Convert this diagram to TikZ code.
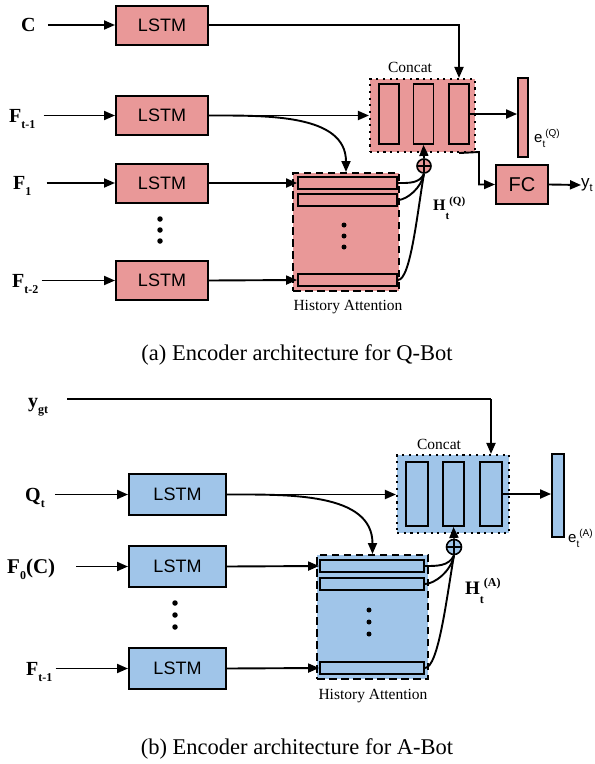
\documentclass[tikz,border=0pt]{standalone}
\usepackage{fontspec}
\setmainfont{Liberation Serif}
\setsansfont{Liberation Sans}
\usetikzlibrary{arrows.meta}
\definecolor{qred}{RGB}{233,152,152}
\definecolor{ablue}{RGB}{160,197,233}
% lowered and raised indices
\newcommand\lowidx[1]{\raisebox{-6pt}{\fontsize{12}{12}\selectfont #1}}
\newcommand\highidx[1]{\raisebox{7pt}{\fontsize{12}{12}\selectfont #1}}

\begin{document}
\begin{tikzpicture}
    [x=1pt, y=-1pt,
    % LSTM encoders
    lstm/.style={rectangle, draw=black, fill=#1, line width=2pt, minimum height=39pt, inner sep=0pt, font=\sffamily\fontsize{18}{18}\selectfont},
    % Concat block
    concat/.style={rectangle, draw=black, fill=#1, line width=2.1pt, dash pattern=on 2.1pt off 4.6pt, inner sep=0pt},
    % History attention block
    history/.style={rectangle, draw=black, fill=#1, line width=2pt, dash pattern=on 7.5pt off 4.5pt, inner sep=0pt},
    % Slots inside the blocks
    slot/.style={rectangle, draw=black, fill=#1, line width=1.8pt, inner sep=0pt},
    % Summation
    adder/.style={circle, draw=black, fill=#1, line width=1.6pt, minimum size=14pt, inner sep=0pt,
        path picture={\draw[line width=1.3pt] (path picture bounding box.north) -- (path picture bounding box.south)
        (path picture bounding box.west) -- (path picture bounding box.east);}},
    % Inputs and labels
    inp/.style={anchor=base west, inner sep=0pt, font=\bfseries\fontsize{20}{20}\selectfont},
    tag/.style={anchor=base, inner sep=0pt, font=\fontsize{15.5}{16}\selectfont},
    outp/.style={anchor=base west, inner sep=0pt, font=\sffamily\fontsize{15}{15}\selectfont},
    caption/.style={anchor=base, inner sep=0pt, font=\fontsize{22.5}{23}\selectfont},
    dot/.style={circle, fill=black, inner sep=0pt, minimum size=5.5pt},
    line/.style={draw, line width=1.9pt, -{Triangle[length=11pt,width=9pt]}},
    plain/.style={draw, line width=1.9pt}]
    \useasboundingbox (0,0) rectangle (595,764);

    % (a) Q-Bot encoder
    \node [inp] (inQa) at (21,31)  {C};
    \node [inp] (inQb) at (9,122)  {F\lowidx{t-1}};
    \node [inp] (inQc) at (13,189) {F\lowidx{1}};
    \node [inp] (inQd) at (12,287) {F\lowidx{t-2}};

    \node [lstm=qred, minimum width=92pt] (lstmQa) at (162,25)    {LSTM};
    \node [lstm=qred, minimum width=92pt] (lstmQb) at (162,115.5) {LSTM};
    \node [lstm=qred, minimum width=92pt] (lstmQc) at (162,183)   {LSTM};
    \node [lstm=qred, minimum width=92pt] (lstmQd) at (162,280.5) {LSTM};
    \node [dot] (dQa) at (160,219) {};
    \node [dot] (dQb) at (160,230) {};
    \node [dot] (dQc) at (160,241) {};

    \node [concat=qred, minimum width=105pt, minimum height=73pt] (catQ) at (422.5,115.5) {};
    \node [slot=qred, minimum width=20pt, minimum height=60pt] (catQa) at (389,114)   {};
    \node [slot=qred, minimum width=20pt, minimum height=60pt] (catQb) at (423.5,114) {};
    \node [slot=qred, minimum width=20pt, minimum height=60pt] (catQc) at (459,114)   {};
    \node [tag] (catQlbl) at (410,72) {Concat};

    \node [history=qred, minimum width=106pt, minimum height=118pt] (histQ) at (346,232) {};
    \node [slot=qred, minimum width=99pt, minimum height=12pt] (hQa) at (347.5,183) {};
    \node [slot=qred, minimum width=99pt, minimum height=12pt] (hQb) at (347.5,200) {};
    \node [slot=qred, minimum width=99pt, minimum height=12pt] (hQc) at (347.5,280) {};
    \node [dot, minimum size=5pt] (hdQa) at (344,225) {};
    \node [dot, minimum size=5pt] (hdQb) at (344,236) {};
    \node [dot, minimum size=5pt] (hdQc) at (344,247) {};
    \node [tag] (histQlbl) at (348,310) {History Attention};

    \node [adder=qred] (sumQ) at (424,166) {};
    \node [inp, font=\bfseries\fontsize{16}{16}\selectfont] (hQ) at (433,210)
        {H\raisebox{-9pt}{\fontsize{11}{11}\selectfont t}\raisebox{6pt}{\fontsize{11}{11}\selectfont (Q)}};
    \node [slot=qred, minimum width=10pt, minimum height=79pt] (eQ) at (523,117.5) {};
    \node [outp] (eQlbl) at (534,142)
        {e\raisebox{-5pt}{\fontsize{10}{10}\selectfont t}\raisebox{6pt}{\fontsize{10}{10}\selectfont (Q)}};
    \node [lstm=qred, minimum width=52pt, font=\sffamily\fontsize{20}{20}\selectfont] (fcQ) at (522,184.5) {FC};
    \node [outp, anchor=west, font=\sffamily\fontsize{17}{17}\selectfont] (ytQ) at (581,185)
        {y\raisebox{-4pt}{\fontsize{11}{11}\selectfont t}};
    \coordinate (bendQ) at (479,152);

    \draw [line] ([xshift=12pt]inQa.east |- lstmQa) -- (lstmQa);
    \draw [line] ([xshift=8pt]inQb.east |- lstmQb) -- (lstmQb);
    \draw [line] ([xshift=15pt]inQc.east |- lstmQc) -- (lstmQc);
    \draw [line] ([xshift=3pt]inQd.east |- lstmQd) -- (lstmQd);
    \draw [line] (lstmQa.east) -| (catQc |- catQ.north);
    \draw [line] (lstmQb.east) -- (catQ.west |- lstmQb);
    \draw [line] (lstmQb.east) to[out=0, in=90] (histQ.north);
    \draw [line] (lstmQc.east) -- (hQa.west);
    \draw [line] (lstmQd.east) -- (hQc.west);
    \draw [plain] (hQa.east) to[out=0, in=-115] (sumQ.south);
    \draw [plain] (hQb.east) to[out=0, in=-100, out looseness=0.6] (sumQ.south);
    \draw [plain] (hQc.east) to[out=0, in=-100, out looseness=0.3, in looseness=0.9] (sumQ.south);
    \draw [line] (sumQ.north) -- (catQb.south);
    \draw [line] (catQc.east) -- (eQ.west |- catQc.east);
    \draw [line] (catQc |- catQ.south) -- (bendQ) |- (fcQ.west);
    \draw [line] (fcQ.east) -- (ytQ.west);

    \node [caption] (capQ) at (297,360) {(a) Encoder architecture for Q-Bot};

    % (b) A-Bot encoder
    \node [inp] (inAa) at (28,407) {y\lowidx{gt}};
    \node [inp] (inAb) at (25,501) {Q\lowidx{t}};
    \node [inp, font=\bfseries\fontsize{21}{21}\selectfont] (inAc) at (7,573) {F\lowidx{0}(C)};
    \node [inp] (inAd) at (26,675) {F\lowidx{t-1}};

    \node [lstm=ablue, minimum width=97pt, minimum height=41pt] (lstmAa) at (177.5,494.5) {LSTM};
    \node [lstm=ablue, minimum width=97pt, minimum height=41pt] (lstmAb) at (177.5,566.5) {LSTM};
    \node [lstm=ablue, minimum width=97pt, minimum height=41pt] (lstmAc) at (177.5,668.5) {LSTM};
    \node [dot] (dAa) at (175,603) {};
    \node [dot] (dAb) at (175,615) {};
    \node [dot] (dAc) at (175,627) {};

    \node [concat=ablue, minimum width=112pt, minimum height=78pt] (catA) at (453,494) {};
    \node [slot=ablue, minimum width=22pt, minimum height=64pt] (catAa) at (417,494)   {};
    \node [slot=ablue, minimum width=21pt, minimum height=64pt] (catAb) at (453.5,494) {};
    \node [slot=ablue, minimum width=22pt, minimum height=64pt] (catAc) at (491,494)   {};
    \node [tag] (catAlbl) at (439,449) {Concat};

    \node [history=ablue, minimum width=111pt, minimum height=124pt] (histA) at (372.5,617) {};
    \node [slot=ablue, minimum width=104pt, minimum height=12pt] (hAa) at (372,566) {};
    \node [slot=ablue, minimum width=104pt, minimum height=12pt] (hAb) at (372,584) {};
    \node [slot=ablue, minimum width=104pt, minimum height=12pt] (hAc) at (372,668) {};
    \node [dot, minimum size=5pt] (hdAa) at (369,610) {};
    \node [dot, minimum size=5pt] (hdAb) at (369,622) {};
    \node [dot, minimum size=5pt] (hdAc) at (369,634) {};
    \node [tag] (histAlbl) at (373,699) {History Attention};

    \node [adder=ablue, minimum size=15pt] (sumA) at (454,547) {};
    \node [inp, font=\bfseries\fontsize{19}{19}\selectfont] (hA) at (465,594)
        {H\raisebox{-9pt}{\fontsize{12}{12}\selectfont t}\raisebox{8pt}{\fontsize{12}{12}\selectfont (A)}};
    \node [slot=ablue, minimum width=12pt, minimum height=83pt] (eA) at (558,495.5) {};
    \node [outp] (eAlbl) at (568,542)
        {e\raisebox{-5pt}{\fontsize{10}{10}\selectfont t}\raisebox{6pt}{\fontsize{10}{10}\selectfont (A)}};
    \coordinate (bendA) at (491,399);

    \draw [plain] ([xshift=19pt]inAa.east |- bendA) -- (bendA);
    \draw [line] (bendA) -- (catAc |- catA.north);
    \draw [line] ([xshift=10pt]inAb.east |- lstmAa) -- (lstmAa);
    \draw [line] ([xshift=21pt]inAc.east |- lstmAb) -- (lstmAb);
    \draw [line] ([xshift=3pt]inAd.east |- lstmAc) -- (lstmAc);
    \draw [line] (lstmAa.east) -- (catA.west |- lstmAa);
    \draw [line] (lstmAa.east) to[out=0, in=90] (histA.north);
    \draw [line] (lstmAb.east) -- (hAa.west);
    \draw [line] (lstmAc.east) -- (hAc.west);
    \draw [plain] (hAa.east) to[out=0, in=-115] (sumA.south);
    \draw [plain] (hAb.east) to[out=0, in=-100, out looseness=0.6] (sumA.south);
    \draw [plain] (hAc.east) to[out=0, in=-100, out looseness=0.3, in looseness=0.9] (sumA.south);
    \draw [line] (sumA.north) -- (catAb.south);
    \draw [line] (catAc.east) -- (eA.west |- catAc.east);

    \node [caption] (capA) at (297,754) {(b) Encoder architecture for A-Bot};
\end{tikzpicture}
\end{document}
